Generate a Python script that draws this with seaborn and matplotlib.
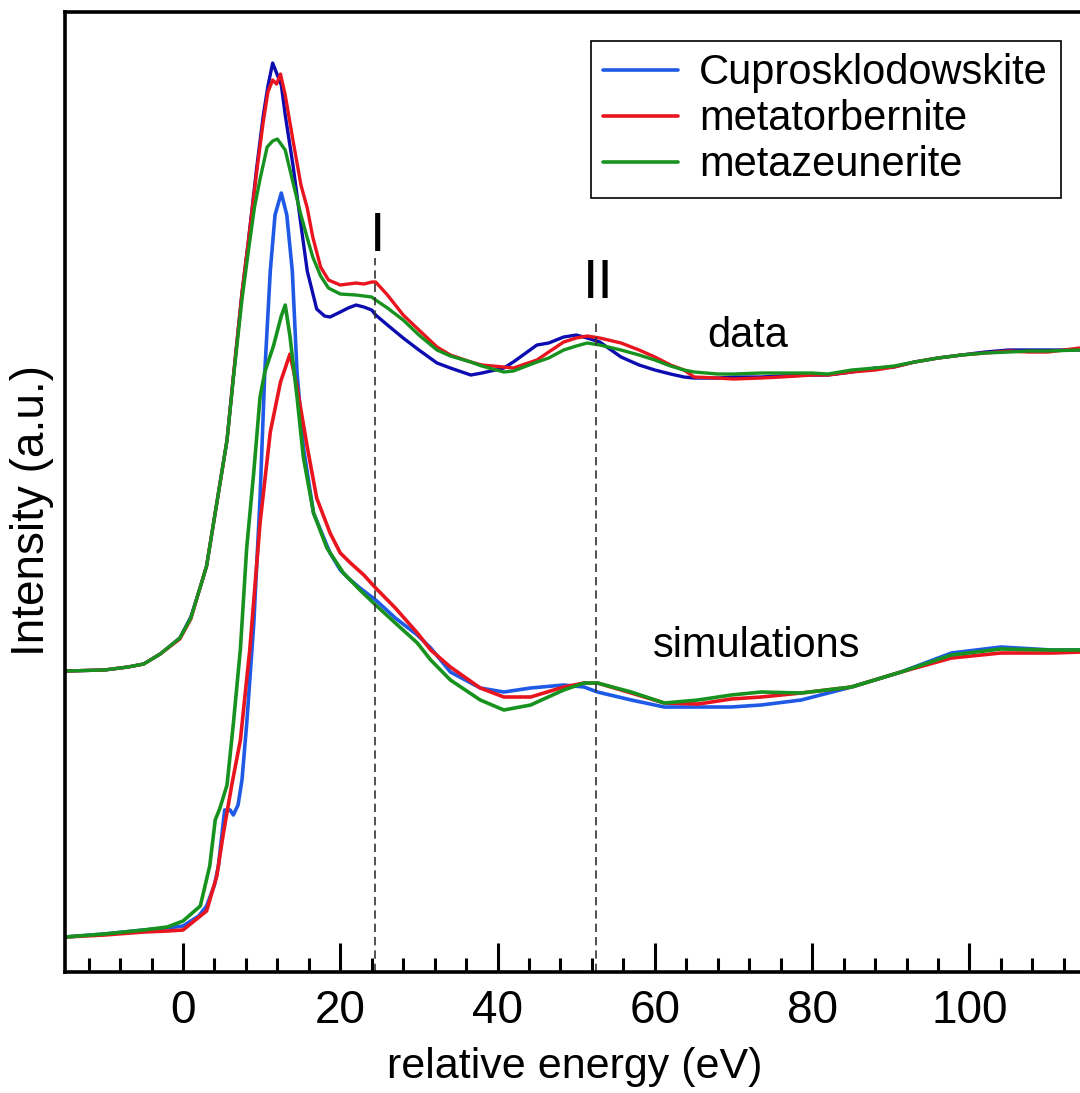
import matplotlib
matplotlib.use("Agg")
import matplotlib.pyplot as plt
from matplotlib.ticker import MultipleLocator
import seaborn as sns
import pandas as pd

# ---------------- data (relative energy in eV, intensity in a.u.) ----------------
series_names = ["Cuprosklodowskite", "metatorbernite", "metazeunerite"]

data_cupro = [(-15, 3.01), (-10, 3.02), (-7, 3.05), (-5, 3.08), (-2.9, 3.18), (-0.4, 3.34), (1, 3.55),
              (2.2, 3.85), (3, 4.06), (4.3, 4.69), (5.6, 5.32), (6.4, 5.95), (7.5, 6.79), (8.3, 7.30),
              (9.4, 8.06), (10.2, 8.56), (10.8, 8.86), (11.4, 9.09), (12.5, 8.87), (13, 8.57), (14, 8.06),
              (15, 7.47), (15.8, 7.01), (17, 6.63), (18, 6.56), (18.7, 6.55), (20, 6.60), (21, 6.64),
              (22, 6.67), (23, 6.65), (24, 6.62), (24.5, 6.57), (26, 6.47), (28, 6.34), (30, 6.22),
              (32.3, 6.09), (34, 6.04), (36.6, 5.97), (38, 5.99), (40.8, 6.04), (42, 6.10), (45, 6.27),
              (46.5, 6.29), (48.4, 6.35), (50, 6.37), (51.4, 6.34), (53, 6.30), (55.7, 6.15), (58, 6.07),
              (60, 6.02), (62, 5.98), (63.7, 5.95), (65, 5.94), (68, 5.94), (70, 5.95), (73.5, 5.95),
              (76, 5.96), (80, 5.97), (82, 5.97), (85, 6.00), (88, 6.04), (90.4, 6.05), (93, 6.10),
              (96, 6.14), (99, 6.17), (102, 6.20), (105, 6.22), (107.5, 6.22), (110, 6.22), (114, 6.22)]

data_torb = [(-15, 3.01), (-10, 3.02), (-7, 3.05), (-5, 3.08), (-2.9, 3.18), (-0.4, 3.33), (1, 3.53),
             (2.2, 3.85), (3, 4.06), (4.3, 4.69), (5.6, 5.32), (6.4, 5.95), (7.5, 6.79), (8.3, 7.30),
             (9.4, 8.02), (10.2, 8.50), (10.8, 8.80), (11.4, 8.92), (11.9, 8.88), (12.4, 8.98), (13, 8.77),
             (14, 8.31), (15, 7.87), (15.8, 7.64), (16.5, 7.35), (17.5, 7.05), (18.5, 6.92), (20, 6.87),
             (22, 6.89), (23, 6.88), (24, 6.90), (24.5, 6.90), (26, 6.77), (28, 6.57), (30, 6.42),
             (32.3, 6.25), (34, 6.17), (36.6, 6.10), (38, 6.07), (40.8, 6.05), (42, 6.04), (45, 6.12),
             (46.5, 6.20), (48.4, 6.30), (50, 6.34), (51.4, 6.36), (53, 6.34), (55.7, 6.29), (58, 6.22),
             (60, 6.15), (62, 6.07), (63.7, 6.02), (65, 5.95), (68, 5.94), (70, 5.93), (73.5, 5.94),
             (76, 5.95), (80, 5.97), (82, 5.97), (85, 6.00), (88, 6.02), (90.4, 6.05), (93, 6.10),
             (96, 6.14), (99, 6.17), (102, 6.19), (105, 6.21), (107.5, 6.20), (110, 6.20), (114, 6.24)]

data_zeun = [(-15, 3.01), (-10, 3.02), (-7, 3.05), (-5, 3.08), (-2.9, 3.18), (-0.4, 3.34), (1, 3.54),
             (2.2, 3.85), (3, 4.06), (4.3, 4.69), (5.6, 5.32), (6.4, 5.93), (7.5, 6.72), (8.3, 7.20),
             (9.1, 7.65), (9.8, 7.93), (10.7, 8.25), (11.4, 8.31), (12, 8.33), (13, 8.22), (14, 7.89),
             (15, 7.57), (15.8, 7.34), (16.5, 7.15), (17.5, 6.96), (18.5, 6.84), (20, 6.78), (22, 6.77),
             (24, 6.75), (24.5, 6.72), (26, 6.64), (28, 6.52), (30, 6.37), (32.3, 6.22), (34, 6.16),
             (36.6, 6.10), (38, 6.06), (40.8, 6.00), (42, 6.01), (45, 6.10), (46.5, 6.14), (48.4, 6.22),
             (50, 6.26), (51.4, 6.29), (53, 6.27), (55.7, 6.22), (58, 6.17), (60, 6.12), (62, 6.06),
             (63.7, 6.02), (65, 6.00), (68, 5.98), (70, 5.98), (73.5, 5.99), (76, 5.99), (80, 5.99),
             (82, 5.98), (85, 6.02), (88, 6.04), (90.4, 6.06), (93, 6.10), (96, 6.14), (99, 6.17),
             (102, 6.19), (105, 6.20), (107.5, 6.21), (110, 6.21), (114, 6.22)]

sim_cupro = [(-15, 0.35), (-10, 0.38), (-5, 0.42), (-2, 0.44), (0, 0.46), (2, 0.56), (3, 0.66), (4, 0.87),
             (4.5, 1.06), (5.3, 1.62), (6, 1.62), (6.4, 1.57), (7, 1.67), (7.5, 1.92), (8.1, 2.48),
             (9, 3.48), (9.8, 4.74), (10.4, 6.00), (11.1, 7.01), (11.7, 7.57), (12.5, 7.79), (13.2, 7.57),
             (13.9, 7.01), (14.5, 6.00), (15.3, 5.25), (16.6, 4.59), (18.7, 4.19), (20, 4.02), (21, 3.94),
             (22.5, 3.84), (24.5, 3.72), (27, 3.54), (29.8, 3.37), (31.5, 3.24), (34, 3.00), (37.8, 2.84),
             (40.8, 2.80), (44.2, 2.84), (48.4, 2.87), (51, 2.85), (52.7, 2.80), (57, 2.72), (61.2, 2.65),
             (65.5, 2.65), (69.7, 2.65), (73.5, 2.67), (78.6, 2.72), (85, 2.85), (91.3, 3.00),
             (97.7, 3.19), (104, 3.25), (110.4, 3.22), (114.3, 3.22), (120, 3.22)]

sim_torb = [(-15, 0.35), (-10, 0.37), (-5, 0.40), (-2, 0.41), (0, 0.42), (3, 0.61), (4.3, 0.96),
            (5.1, 1.37), (6.2, 1.87), (7.3, 2.32), (8.5, 3.23), (9.8, 4.49), (11.1, 5.40), (12.4, 5.90),
            (13.6, 6.18), (14.5, 5.85), (15.8, 5.25), (17, 4.74), (18.7, 4.39), (20, 4.19), (21.3, 4.09),
            (23, 3.97), (24.5, 3.84), (27, 3.64), (29.8, 3.39), (31.5, 3.22), (34, 3.05), (37.8, 2.84),
            (40.8, 2.75), (44.2, 2.75), (48.4, 2.85), (51, 2.89), (52.7, 2.89), (57, 2.79), (61.2, 2.69),
            (65.5, 2.68), (69.7, 2.73), (73.5, 2.75), (78.6, 2.79), (85, 2.85), (91.3, 3.00),
            (97.7, 3.14), (104, 3.19), (110.4, 3.19), (114.3, 3.20), (120, 3.20)]

sim_zeun = [(-15, 0.35), (-10, 0.38), (-5, 0.42), (-2, 0.45), (0, 0.51), (2.2, 0.66), (3.4, 1.06),
            (4.1, 1.52), (4.7, 1.64), (5.6, 1.87), (6.4, 2.48), (7.3, 3.23), (8.1, 4.24), (9, 5.00),
            (9.8, 5.75), (10.4, 6.00), (11.5, 6.26), (12.5, 6.56), (13, 6.67), (13.6, 6.36), (14.5, 5.75),
            (15.3, 5.15), (16.6, 4.59), (18.3, 4.24), (20.4, 3.99), (22.5, 3.82), (24.5, 3.67), (27, 3.49),
            (29.8, 3.29), (31.5, 3.12), (34, 2.92), (37.8, 2.72), (40.8, 2.62), (44.2, 2.67), (48.4, 2.82),
            (51, 2.89), (52.7, 2.89), (57, 2.80), (61.2, 2.69), (65.5, 2.72), (69.7, 2.77), (73.5, 2.80),
            (78.6, 2.79), (85, 2.85), (91.3, 3.00), (97.7, 3.17), (104, 3.23), (110.4, 3.22),
            (114.3, 3.22), (120, 3.22)]

marker_E = [24.4, 52.5]          # dashed guide lines I and II
marker_top = [7.14, 6.52]
marker_labels = ["I", "II"]
marker_label_pos = [(24.8, 7.21), (52.8, 6.74)]
xtick_major = [0, 20, 40, 60, 80, 100]

# ---------------- styling ----------------
sns.set_style("white")
plt.rcParams["font.family"] = ["Liberation Sans", "DejaVu Sans"]
plt.rcParams["text.color"] = "black"
plt.rcParams["axes.labelcolor"] = "black"
plt.rcParams["xtick.color"] = "black"
plt.rcParams["ytick.color"] = "black"

data_colors = ["#0c0cb0", "#e8141e", "#17921e"]
sim_colors = ["#1f5ae6", "#e8141e", "#17921e"]

fig = plt.figure(figsize=(10.8, 10.93), dpi=100)
ax = fig.add_axes([0.0602, 0.1107, 0.9445, 0.8783])

def to_df(pairs):
    return pd.DataFrame(pairs, columns=["E", "I"])

for pairs, c in zip([data_cupro, data_torb, data_zeun], data_colors):
    d = to_df(pairs)
    sns.lineplot(data=d, x="E", y="I", ax=ax, color=c, linewidth=2.4,
                 sort=False, estimator=None)

sim_handles = []
for pairs, c, name in zip([sim_cupro, sim_torb, sim_zeun], sim_colors, series_names):
    d = to_df(pairs)
    sns.lineplot(data=d, x="E", y="I", ax=ax, color=c, linewidth=2.6,
                 sort=False, estimator=None)
    ln = ax.lines[-1]
    ln.set_label(name)
    sim_handles.append(ln)

ax.vlines(marker_E, 0, marker_top, colors="#333333", linewidth=1.2,
          linestyles=(0, (5, 3)))
for lab, (xx, yy) in zip(marker_labels, marker_label_pos):
    ax.text(xx, yy, lab, fontsize=40, ha="center", va="baseline", color="black")

ax.text(66.7, 6.25, "data", fontsize=30, ha="left", va="baseline", color="black")
ax.text(59.7, 3.15, "simulations", fontsize=30, ha="left", va="baseline", color="black")

ax.set_xlim(-15, 114.7)
ax.set_ylim(0, 9.6)
ax.set_xticks(xtick_major)
ax.xaxis.set_minor_locator(MultipleLocator(4))
ax.tick_params(axis="x", which="major", direction="in", length=21, width=2.2,
               labelsize=33, pad=12, bottom=True, top=False, color="black",
               labelcolor="black")
ax.tick_params(axis="x", which="minor", direction="in", length=10, width=2.2,
               bottom=True, top=False, color="black")
ax.tick_params(axis="y", left=False, labelleft=False)
for sp in ax.spines.values():
    sp.set_linewidth(2.6)
    sp.set_color("black")

ax.set_xlabel("relative energy (eV)", fontsize=31, labelpad=10, color="black")
ax.set_ylabel("Intensity (a.u.)", fontsize=33, color="black")
ax.yaxis.set_label_coords(-0.0104, 0.481)

leg = ax.legend(handles=sim_handles, labels=series_names, loc="upper right",
                bbox_to_anchor=(0.982, 0.9625), bbox_transform=fig.transFigure,
                fontsize=30, frameon=True, fancybox=False, edgecolor="black",
                framealpha=1, handlelength=1.8, handletextpad=0.5, labelspacing=0.14,
                borderpad=0.3, borderaxespad=0)
leg.get_frame().set_linewidth(1.2)
for t in leg.get_texts():
    t.set_color("black")
for h in leg.legend_handles:
    h.set_linewidth(2.6)

fig.savefig("out.png", dpi=100)
